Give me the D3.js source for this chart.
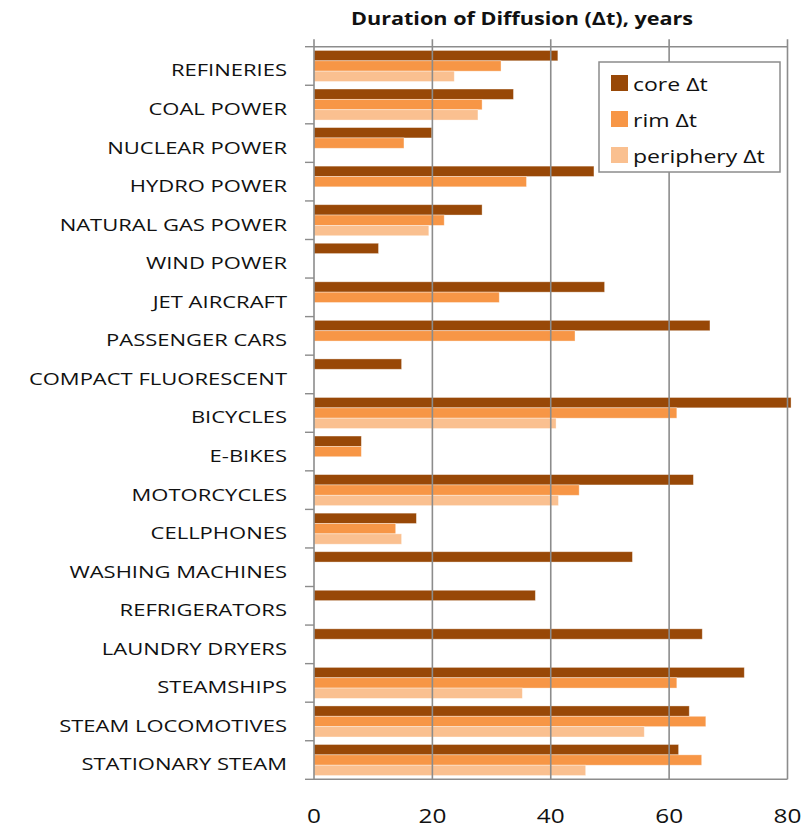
<!DOCTYPE html>
<html><head><meta charset="utf-8">
<script src="https://cdn.jsdelivr.net/npm/d3@7"></script>
<style>body{margin:0;background:#fff}</style>
</head><body>
<svg id="chart" width="805" height="828"></svg>
<script>
// Duration of diffusion by technology, in years, for core / rim / periphery regions
const categories = ["REFINERIES","COAL POWER","NUCLEAR POWER","HYDRO POWER","NATURAL GAS POWER","WIND POWER","JET AIRCRAFT","PASSENGER CARS","COMPACT FLUORESCENT","BICYCLES","E-BIKES","MOTORCYCLES","CELLPHONES","WASHING MACHINES","REFRIGERATORS","LAUNDRY DRYERS","STEAMSHIPS","STEAM LOCOMOTIVES","STATIONARY STEAM"];
const coreDt      = [41.2, 33.7, 19.9, 47.3, 28.4, 10.9, 49.1, 66.9, 14.8, 80.6, 8.0, 64.1, 17.3, 53.8, 37.4, 65.6, 72.7, 63.4, 61.6];
const rimDt       = [31.6, 28.4, 15.2, 35.9, 22.0, null, 31.3, 44.1, null, 61.3, 8.0, 44.8, 13.8, null, null, null, 61.3, 66.2, 65.5];
const peripheryDt = [23.7, 27.7, null, null, 19.4, null, null, null, null, 40.9, null, 41.3, 14.8, null, null, null, 35.2, 55.8, 45.9];
const seriesNames = ["core Δt", "rim Δt", "periphery Δt"];
const seriesColors = ["#984807", "#f79646", "#fac090"];
const xTicks = [0, 20, 40, 60, 80];
const titleText = "Duration of Diffusion (Δt), years";

const seriesValues = [coreDt, rimDt, peripheryDt];
const FONT = "'Open Sans', 'DejaVu Sans', sans-serif";
const GRID = "#8c8c8c";
const INK = "#111";

const svg = d3.select("#chart");
const plotLeft = 314, plotRight = 787.5, plotTop = 46.7, plotBottom = 779.3;

const x = d3.scaleLinear().domain([0, 80]).range([plotLeft, plotRight]);
const y = d3.scaleBand().domain(categories).range([plotTop, plotBottom])
  .paddingInner(0.195).paddingOuter(0.0975);
const ySub = d3.scaleBand().domain(seriesNames).range([0, y.bandwidth()]);

// text widened horizontally by factor sx
function stretchedText(g, tx, ty, str, sx) {
  return g.append("text")
    .attr("transform", `translate(${tx},${ty}) scale(${sx},1)`)
    .text(str);
}

// bars
const rows = categories.map((c, i) => ({ c, vals: seriesValues.map((s, k) => ({ k, v: s[i] })) }));
const barG = svg.append("g");
rows.forEach(r => {
  r.vals.filter(d => d.v != null).forEach(d => {
    barG.append("rect")
      .attr("x", x(0))
      .attr("y", y(r.c) + ySub(seriesNames[d.k]))
      .attr("width", x(d.v) - x(0))
      .attr("height", ySub.bandwidth())
      .attr("fill", seriesColors[d.k])
      .attr("stroke", "#fff").attr("stroke-opacity", 0.45).attr("stroke-width", 0.8);
  });
});

// vertical gridlines with short tick stubs above the plot frame
const gridG = svg.append("g");
xTicks.forEach(t => {
  gridG.append("line")
    .attr("x1", x(t)).attr("x2", x(t))
    .attr("y1", plotTop - 7.5).attr("y2", plotBottom)
    .attr("stroke", GRID).attr("stroke-width", 1.6);
});
// plot frame (top and bottom edges)
gridG.append("line").attr("x1", plotLeft).attr("x2", plotRight).attr("y1", plotTop).attr("y2", plotTop)
  .attr("stroke", GRID).attr("stroke-width", 1.4);
gridG.append("line").attr("x1", plotLeft).attr("x2", plotRight).attr("y1", plotBottom).attr("y2", plotBottom)
  .attr("stroke", GRID).attr("stroke-width", 1.4);

// category tick marks between bands
const step = y.step();
const tickStart = y(categories[0]) - y.paddingInner() * step / 2;
d3.range(categories.length + 1).forEach(i => {
  const yy = tickStart + i * step;
  gridG.append("line").attr("x1", plotLeft - 9).attr("x2", plotLeft)
    .attr("y1", yy).attr("y2", yy)
    .attr("stroke", GRID).attr("stroke-width", 1.4);
});

// category labels
const labG = svg.append("g")
  .attr("font-family", FONT).attr("font-size", 16.8).attr("fill", INK)
  .attr("text-anchor", "end").attr("dominant-baseline", "central");
categories.forEach(c => {
  stretchedText(labG, 287, y(c) + y.bandwidth() / 2 + 4, c, 1.31);
});

// value axis labels
const axG = svg.append("g")
  .attr("font-family", FONT).attr("font-size", 19.5).attr("fill", INK)
  .attr("text-anchor", "middle").attr("dominant-baseline", "central");
xTicks.forEach(t => stretchedText(axG, x(t), 815, t, 1.25));

// title
stretchedText(svg.append("g").attr("font-family", FONT).attr("font-size", 18)
  .attr("font-weight", "bold").attr("fill", INK).attr("text-anchor", "middle"),
  522, 25, titleText, 1.2);

// legend
const lg = svg.append("g");
lg.append("rect").attr("x", 599).attr("y", 62).attr("width", 181).attr("height", 110)
  .attr("fill", "#fff").attr("stroke", GRID).attr("stroke-width", 1.5);
seriesNames.forEach((n, k) => {
  const cy = 83 + k * 36;
  lg.append("rect").attr("x", 611).attr("y", cy - 8).attr("width", 17).attr("height", 16)
    .attr("fill", seriesColors[k]);
  stretchedText(lg, 633, cy + 1, n, 1.28)
    .attr("font-family", FONT).attr("font-size", 18).attr("fill", INK)
    .attr("dominant-baseline", "central");
});
</script>
</body></html>
